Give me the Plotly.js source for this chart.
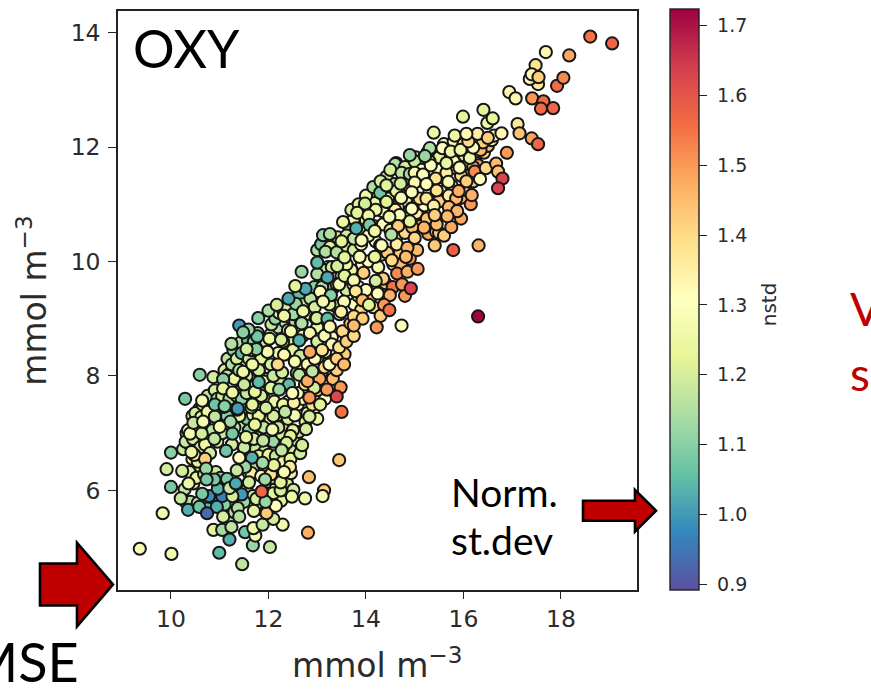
<!DOCTYPE html>
<html><head><meta charset="utf-8">
<script src="https://cdn.plot.ly/plotly-3.0.1.min.js"></script>
<style>html,body{margin:0;padding:0;background:#fff;overflow:hidden}#chart{width:871px;height:691px}</style>
</head><body><div id="chart"></div>
<script>
// ---- hidden bulk under the visible points (drawn first) ----
const massAx=[10.25,10.32,10.4,10.44,10.52,10.58,10.66,10.7,10.78,10.84,10.92,10.98];
const massAy=[6.72,7.0,6.78,7.3,7.0,7.42,6.62,7.12,7.55,6.95,7.2,7.7];
const massAc=[1.18,1.22,1.2,1.24,1.15,1.2,1.26,1.12,1.18,1.22,1.08,1.2];
const massBx=[10.28,10.38,10.46,10.52,10.6,10.68,10.82,10.92,11.02,11.08,10.3,10.44];
const massBy=[6.02,6.32,6.12,6.22,6.42,6.28,6.3,6.32,6.22,6.08,5.8,6.55];
const massBc=[1.18,1.22,1.2,1.24,1.2,1.16,1.1,1.18,1.08,1.2,1.12,1.25];
const massCx=[11.02,11.08,11.14,11.2,11.26,11.32,11.38,11.44,11.5,11.56,11.62,11.68];
const massCy=[7.25,7.62,7.08,7.52,7.85,7.18,7.72,7.1,7.5,7.25,7.8,7.32];
const massCc=[1.2,1.15,1.22,1.1,1.2,1.24,1.12,1.18,1.22,1.08,1.2,1.24];
const massDx=[11.1,11.16,11.22,11.28,11.34,11.42,11.5,11.58,11.64,11.72,11.78,11.84];
const massDy=[8.1,8.3,8.05,8.45,8.18,8.58,8.28,8.62,8.12,8.35,8.75,8.0];
const massDc=[1.2,1.16,1.24,1.1,1.2,1.15,1.22,1.05,1.18,1.22,1.12,1.2];
const massEx=[11.74,11.8,11.86,11.92,11.98,12.04,12.1,12.16,12.22,12.28,12.34,12.4];
const massEy=[6.72,6.92,7.15,6.68,7.0,7.25,6.85,7.12,7.38,6.98,7.15,7.55];
const massEc=[1.18,1.22,1.15,1.2,1.2,1.25,1.12,1.18,1.22,1.2,1.25,1.2];
const massFx=[11.9,11.98,12.04,12.12,12.2,12.26,12.34,12.42,12.5,12.58,12.64,12.72];
const massFy=[7.62,7.95,8.72,7.55,8.85,7.9,8.95,7.85,8.6,8.05,8.22,7.72];
const massFc=[1.2,1.1,1.2,1.25,1.15,1.2,1.18,1.05,1.22,1.12,1.3,1.28];
const massGx=[12.06,12.14,12.22,12.3,12.38,12.46,12.54,12.62,12.7,12.78,12.86,12.94];
const massGy=[8.9,9.0,9.1,9.15,9.2,9.02,9.35,9.4,9.25,9.08,9.35,9.55];
const massGc=[1.18,1.12,1.22,1.1,1.2,1.25,1.15,1.05,1.2,1.26,1.16,1.1];
const massHx=[12.68,12.76,12.84,12.92,13.0,13.08,13.16,13.24,13.32,13.4,13.48,13.56];
const massHy=[7.45,7.2,7.95,7.4,7.25,8.05,7.6,8.25,7.95,8.1,7.8,8.38];
const massHc=[1.28,1.22,1.36,1.28,1.25,1.4,1.3,1.4,1.45,1.42,1.5,1.42];
const massIx=[13.0,13.08,13.16,13.22,13.3,13.38,13.46,13.52,13.6,13.68,13.76,13.84];
const massIy=[8.85,9.75,8.42,9.9,8.68,9.22,9.08,8.78,9.5,8.92,9.25,9.4];
const massIc=[1.25,1.12,1.28,1.2,1.32,1.18,1.28,1.4,1.2,1.45,1.3,1.25];
const massJx=[13.0,13.08,13.16,13.26,13.34,13.42,13.5,13.58,13.66,13.74,13.82,13.9];
const massJy=[10.2,10.3,9.85,10.25,9.55,10.42,9.75,10.25,10.55,9.6,10.75,9.15];
const massJc=[1.15,1.08,1.18,1.22,1.12,1.2,1.25,1.2,1.1,1.28,1.2,1.4];
const massKx=[13.92,14.0,14.08,14.16,14.24,14.32,14.4,14.48,14.56,14.64,14.72,14.8];
const massKy=[9.95,10.72,9.35,10.62,9.52,10.12,9.62,10.85,9.95,10.45,9.95,10.82];
const massKc=[1.3,1.22,1.45,1.3,1.4,1.35,1.42,1.3,1.4,1.28,1.45,1.22];
const massLx=[14.02,14.1,14.18,14.26,14.34,14.42,14.5,14.58,14.66,14.74,14.82,14.9];
const massLy=[10.92,11.12,11.02,11.28,10.88,11.48,11.15,11.35,11.02,11.22,11.05,11.28];
const massLc=[1.2,1.12,1.25,1.18,1.28,1.2,1.3,1.15,1.3,1.25,1.32,1.25];
const massMx=[14.96,15.04,15.12,15.2,15.28,15.36,15.44,15.52,15.6,15.68,15.76,15.84];
const massMy=[10.72,10.85,10.62,10.98,10.48,11.05,10.52,11.42,11.22,11.0,11.32,11.05];
const massMc=[1.42,1.35,1.45,1.3,1.48,1.3,1.44,1.3,1.35,1.42,1.28,1.45];
const massNx=[14.62,14.78,14.92,15.02,15.14,15.26,15.38,15.5,15.62,15.72,15.86,15.96];
const massNy=[11.72,11.42,11.68,11.82,11.48,11.9,11.58,11.82,11.45,12.02,11.62,12.15];
const massNc=[1.12,1.25,1.2,1.15,1.28,1.18,1.3,1.22,1.3,1.28,1.35,1.3];
const massOx=[16.02,16.1,16.18,16.26,16.34,16.42,16.5,16.58,15.98,16.08,16.2,16.3];
const massOy=[11.85,11.55,12.12,11.72,12.05,11.9,12.02,12.12,11.12,11.28,11.4,11.68];
const massOc=[1.35,1.38,1.4,1.48,1.38,1.42,1.45,1.35,1.48,1.44,1.42,1.5];
const massPx=[11.2,11.3,11.42,11.55,11.68,11.82,11.94,12.02,12.14,12.26,12.38,12.46];
const massPy=[5.52,5.72,6.02,6.0,5.9,5.78,5.62,6.0,6.02,5.82,6.12,6.3];
const massPc=[1.15,1.1,1.18,1.2,1.18,1.2,1.22,1.18,1.25,1.22,1.2,1.25];
const massQx=[11.5,11.6,11.7,11.8,11.92,12.0,12.1,12.2,12.32,12.44,12.56,12.62];
const massQy=[6.72,6.3,6.42,6.6,6.35,6.62,6.22,6.48,6.62,6.72,6.88,7.02];
const massQc=[1.18,1.2,1.15,1.22,1.2,1.24,1.18,1.22,1.25,1.2,1.2,1.18];
const bulkAx=[10.3,10.45,10.55,10.6,10.7,10.8,10.85,10.95,10.5,10.65,10.75,10.9,10.35,10.5,10.62,10.8,10.95,10.48];
const bulkAy=[6.85,6.9,6.5,6.75,6.8,6.65,7.05,6.85,7.35,7.5,7.65,7.75,7.05,7.12,7.28,7.42,7.6,6.62];
const bulkAc=[1.18,1.2,1.22,1.18,1.25,1.2,1.16,1.2,1.2,1.18,1.16,1.2,1.25,1.2,1.22,1.18,1.15,1.25];
const bulkBx=[11.05,11.15,11.25,11.3,11.4,11.5,11.6,11.7,11.8,11.9,11.05,11.2,11.35,11.45,11.55,11.65,11.75,11.85];
const bulkBy=[7.0,7.3,6.8,7.1,7.3,6.75,7.05,6.9,7.3,7.1,7.65,7.6,7.65,7.6,7.7,7.45,7.6,7.65];
const bulkBc=[1.18,1.1,1.2,1.15,1.24,1.18,1.1,1.2,1.24,1.18,1.2,1.15,1.24,1.1,1.18,1.22,1.05,1.2];
const bulkCx=[11.15,11.25,11.35,11.45,11.6,11.7,11.85,11.95,12.05,11.3,11.4,11.55,11.65,11.8,11.9,12.1,12.2,12.3];
const bulkCy=[8.0,8.2,8.3,8.4,8.3,8.6,8.3,8.6,8.2,7.95,8.1,8.0,8.45,8.1,7.9,8.0,8.4,8.6];
const bulkCc=[1.18,1.15,1.2,1.05,1.18,1.1,1.22,1.18,1.2,1.24,1.15,1.2,1.1,1.2,1.24,1.18,1.25,1.15];
const bulkDx=[12.1,12.2,12.3,12.4,12.5,12.6,12.7,12.8,12.9,13.0,12.15,12.3,12.45,12.6,12.75,12.9,13.05,13.15];
const bulkDy=[7.3,7.1,7.5,7.25,7.05,7.5,7.6,7.35,7.5,7.75,6.6,6.75,6.95,7.7,7.85,8.0,7.95,8.15];
const bulkDc=[1.2,1.18,1.25,1.2,1.22,1.3,1.28,1.22,1.38,1.42,1.18,1.2,1.22,1.28,1.4,1.3,1.48,1.4];
const bulkEx=[12.4,12.55,12.7,12.85,13.0,13.15,13.3,13.45,13.6,13.75,12.5,12.65,12.8,12.95,13.1,13.25,13.4,13.55];
const bulkEy=[8.8,8.95,8.7,8.75,8.6,8.7,8.55,8.5,8.6,8.7,8.45,8.35,8.2,8.3,8.45,8.2,8.3,8.2];
const bulkEc=[1.18,1.15,1.22,1.26,1.2,1.28,1.32,1.38,1.42,1.4,1.22,1.18,1.28,1.32,1.38,1.3,1.42,1.45];
const bulkFx=[12.95,13.1,13.25,13.4,13.55,13.7,13.85,14.0,14.15,14.3,13.3,13.45,13.6,13.75,13.9,14.05,14.2,14.35];
const bulkFy=[9.2,9.55,9.25,9.6,9.3,9.85,9.55,9.5,9.2,9.05,9.9,9.6,9.95,10.2,10.3,10.0,10.35,9.7];
const bulkFc=[1.2,1.15,1.22,1.2,1.28,1.25,1.32,1.3,1.4,1.42,1.2,1.28,1.25,1.2,1.3,1.32,1.3,1.42];
const bulkGx=[13.6,13.75,13.9,14.05,14.2,14.35,14.5,14.65,14.8,14.95,13.7,13.85,14.0,14.15,14.3,14.45,14.6,14.75];
const bulkGy=[10.45,10.75,10.55,10.45,10.9,10.65,10.55,10.95,10.5,10.6,10.9,11.0,11.15,11.3,11.4,11.1,10.9,11.4];
const bulkGc=[1.2,1.25,1.18,1.3,1.25,1.3,1.38,1.3,1.4,1.45,1.2,1.22,1.25,1.15,1.2,1.25,1.35,1.28];
const bulkHx=[14.6,14.8,15.0,15.15,15.3,15.5,15.65,15.8,15.95,16.1,15.1,15.3,15.5,15.7,15.85,16.0,16.2,16.35];
const bulkHy=[11.7,11.65,11.75,11.6,11.75,11.6,11.55,11.75,11.5,11.7,11.1,11.2,11.05,11.15,11.1,11.25,11.65,11.95];
const bulkHc=[1.15,1.2,1.18,1.3,1.25,1.3,1.35,1.3,1.4,1.38,1.4,1.38,1.42,1.35,1.45,1.4,1.48,1.45];
const bulkIx=[15.6,15.8,16.0,16.2,16.4,15.5,15.7,15.95,16.15,14.7,14.9,15.05,15.25,15.45,15.6,15.75,14.55,14.8];
const bulkIy=[12.05,12.1,12.05,12.12,12.08,10.5,10.95,10.75,11.0,10.15,10.05,10.2,10.75,10.65,10.45,10.6,9.55,9.4];
const bulkIc=[1.3,1.28,1.4,1.35,1.42,1.42,1.45,1.48,1.5,1.42,1.5,1.45,1.44,1.45,1.42,1.48,1.55,1.5];
const bulkJx=[11.1,11.3,11.5,11.75,11.95,12.1,12.25,10.4,10.55,10.9,11.05,11.15,11.65,11.85,12.05,12.3,12.45,12.65];
const bulkJy=[5.75,5.62,5.8,5.85,5.95,5.95,6.0,5.8,5.78,5.85,5.9,6.2,6.3,6.25,6.28,6.5,6.55,6.65];
const bulkJc=[1.1,1.15,1.12,1.2,1.18,1.22,1.2,1.15,1.16,1.0,0.96,1.08,1.36,1.3,1.38,1.25,1.22,1.2];
// ---- the points readable on top of the cloud ----
const lowAx=[9.36,10.01,9.83,10.99,11.46,12.03,11.68,11.2,10.87,11.05,11.24,11.52];
const lowAy=[4.98,4.89,5.6,4.91,4.71,5.01,5.04,5.14,5.31,5.31,5.36,5.27];
const lowAc=[1.28,1.27,1.27,1.05,1.17,1.18,1.12,1.03,1.22,1.13,1.17,1.07];
const lowBx=[11.73,11.69,11.88,12.29,12.81,12.1,10.35,10.75,10.58,10.94,11.07,11.37];
const lowBy=[5.21,5.34,5.4,5.4,5.26,5.5,5.66,5.68,5.71,5.71,5.54,5.69];
const lowBc=[1.27,1.25,1.18,1.27,1.47,1.2,1.03,1.05,1.07,1.03,1.2,1.15];
const lowCx=[11.4,11.7,11.96,12.15,11.94,10.2,10.0,10.78,11.45,10.96,11.26,10.64];
const lowCy=[5.54,5.64,5.6,5.73,5.8,5.86,6.06,5.9,5.93,6.03,5.9,5.94];
const lowCc=[1.15,1.22,1.43,1.3,1.12,1.18,1.08,0.98,1.0,1.04,1.2,1.08];
const lowDx=[11.86,11.6,11.93,12.25,12.51,12.75,12.48,13.14,13.11,12.83,13.45,12.44];
const lowDy=[5.98,6.14,6.19,6.14,6.01,5.86,5.89,6.0,5.9,6.23,6.53,6.41];
const lowDc=[1.57,1.2,1.13,1.22,1.2,1.26,1.25,1.42,1.28,1.45,1.43,1.36];
const lowEx=[12.11,11.66,11.52,11.35,11.88,10.7,10.72,10.23,9.91,10.0,10.36,10.89];
const lowEy=[6.44,6.57,6.41,6.35,6.48,6.55,6.38,6.34,6.37,6.66,6.12,6.19];
const lowEc=[1.22,1.03,1.12,1.18,1.13,1.42,1.12,1.2,1.2,1.1,1.25,1.08];
const lowFx=[10.73,11.2,11.33,11.13,11.4,10.42,10.39,10.63,10.89,11.26,11.54,10.46];
const lowFy=[6.19,6.04,6.12,6.69,6.57,6.67,6.99,6.99,6.9,6.99,6.93,7.18];
const lowFc=[1.08,1.18,1.02,1.07,1.3,1.25,1.27,1.2,1.17,1.08,1.23,1.18];
const lowGx=[10.75,10.9,11.09,11.36,11.22,11.0,10.66,10.74,12.32,12.37,12.27,12.69];
const lowGy=[7.37,7.29,7.46,7.41,7.2,7.11,7.2,5.6,6.32,6.83,6.7,6.79];
const lowGc=[1.25,1.17,1.1,1.0,1.13,1.27,1.27,0.93,1.28,1.2,1.17,1.2];
const lowHx=[12.77,12.84,12.54,13.06,12.34,12.08,11.72,11.89,11.95,11.67,12.52,13.5];
const lowHy=[7.07,7.29,7.31,7.5,7.37,7.06,7.15,6.87,7.44,7.5,7.53,7.37];
const lowHc=[1.2,1.2,1.27,1.22,1.17,1.27,1.23,1.17,1.2,1.22,1.35,1.55];
const midAx=[13.4,13.2,10.59,10.87,11.07,11.07,10.29,10.64,10.9,11.1,11.37,11.26];
const midAy=[7.64,7.76,8.02,7.98,7.94,7.78,7.6,7.57,7.5,7.47,7.43,7.71];
const midAc=[1.62,1.5,1.1,1.2,1.1,1.22,1.08,1.27,1.07,1.1,1.0,1.25];
const midBx=[11.72,12.05,12.22,12.49,12.94,12.84,11.8,11.5,11.48,11.67,12.28,12.63];
const midBy=[7.72,7.79,7.76,7.7,7.79,7.62,7.89,7.85,8.07,8.2,8.06,8.02];
const midBc=[1.23,1.22,1.12,1.3,1.2,1.5,1.05,1.18,1.25,1.25,1.2,1.17];
const midCx=[12.8,12.9,12.32,12.19,11.98,11.75,11.55,12.54,12.85,11.24,11.77,12.02];
const midCy=[7.91,8.08,8.37,8.2,8.42,8.47,8.47,8.25,8.42,8.56,8.69,8.65];
const midCc=[1.47,1.17,1.33,1.4,1.27,1.1,1.2,1.28,1.48,1.15,1.07,1.25];
const midDx=[12.26,12.46,12.63,12.67,12.97,12.7,12.51,12.32,11.4,11.59,11.48,11.79];
const midDy=[8.63,8.78,8.62,8.93,9.01,9.13,9.08,9.05,8.88,8.81,8.76,9.01];
const midDc=[1.2,1.27,1.03,1.17,1.22,1.3,1.13,1.25,1.0,1.12,1.1,1.1];
const midEx=[12.0,12.17,12.56,12.41,12.76,12.55,12.68,13.0,13.21,13.41,13.56,13.95];
const midEy=[9.14,9.24,9.26,9.35,9.52,9.57,9.82,9.78,9.72,9.92,9.75,9.8];
const midEc=[1.15,1.2,1.12,1.02,1.02,1.22,1.12,1.15,1.02,1.2,1.22,1.42];
const midFx=[14.25,14.64,14.85,15.06,13.75,14.2,14.74,14.92,13.06,13.28,13.79,14.24];
const midFy=[9.9,9.79,9.82,9.87,9.67,9.66,9.6,9.53,9.47,9.41,9.48,9.44];
const midFc=[1.28,1.52,1.47,1.5,1.27,1.2,1.5,1.63,1.3,1.1,1.37,1.3];
const midGx=[14.49,13.12,13.49,13.93,14.06,14.37,14.48,12.71,12.99,13.21,13.75,13.93];
const midGy=[9.41,9.3,9.12,9.32,9.24,9.24,9.15,9.13,9.01,9.0,9.04,9.0];
const midGc=[1.47,1.27,1.35,1.45,1.22,1.5,1.55,1.25,1.2,1.05,1.4,1.42];
const midHx=[14.73,14.22,13.26,13.75,12.68,13.0,13.17,13.4,13.56,13.87,14.18,14.44];
const midHy=[8.88,8.85,8.86,8.88,8.92,9.98,10.17,10.16,10.07,10.08,10.08,10.15];
const midHc=[1.32,1.5,1.33,1.45,1.15,1.05,1.15,1.15,1.22,1.3,1.23,1.42];
const upAx=[14.53,13.12,13.26,13.5,13.75,13.91,14.29,14.63,15.0,15.19,14.85,13.53];
const upAy=[10.02,10.46,10.48,10.35,10.4,10.37,10.28,10.3,10.41,10.59,10.24,10.69];
const upAc=[1.4,1.12,1.15,1.22,1.17,1.28,1.32,1.35,1.4,1.46,1.46,1.25];
const upBx=[13.8,13.98,13.82,14.05,14.07,14.18,14.49,14.66,14.9,14.94,15.41,15.79];
const upBy=[10.58,11.01,10.85,10.8,10.64,10.53,10.78,10.64,10.7,10.93,10.28,10.2];
const upBc=[1.03,1.2,1.22,1.25,1.08,1.25,1.3,1.37,1.23,1.3,1.43,1.58];
const upCx=[16.31,14.29,14.62,14.72,14.42,14.5,14.73,14.9,15.0,15.17,15.43,15.69];
const upCy=[10.28,11.2,11.23,11.11,11.04,11.6,11.55,11.53,11.55,11.52,11.45,11.39];
const upCc=[1.46,1.07,1.23,1.28,1.22,1.2,1.17,1.13,1.28,1.3,1.38,1.27];
const upDx=[14.42,14.71,15.0,15.24,14.94,15.45,15.24,15.39,14.94,15.87,15.67,15.41];
const upDy=[11.33,11.36,11.38,11.35,11.21,11.24,11.1,10.97,10.92,10.88,10.79,10.81];
const upDc=[1.22,1.2,1.33,1.3,1.3,1.38,1.37,1.35,1.3,1.46,1.45,1.42];
const upEx=[14.69,14.48,14.66,14.52,14.32,14.82,15.33,15.65,15.92,16.13,16.23,16.46];
const upEy=[10.81,10.78,10.62,10.47,10.28,10.08,11.68,11.72,11.64,11.81,11.57,11.63];
const upEc=[1.3,1.27,1.42,1.15,1.3,1.45,1.3,1.25,1.3,1.25,1.52,1.4];
const upFx=[16.67,16.89,16.71,16.8,16.71,16.34,16.06,15.9,16.17,15.31,15.21,14.9];
const upFy=[11.71,11.9,11.57,11.45,11.28,11.44,11.4,11.23,11.16,11.98,11.84,11.86];
const upFc=[1.45,1.5,1.44,1.63,1.63,1.3,1.42,1.47,1.47,1.15,1.12,1.12];
const upGx=[15.57,15.74,15.94,16.2,15.39,15.82,16.63,16.1,16.29,16.78,16.5,16.06];
const upGy=[11.98,11.92,11.95,11.99,12.25,12.2,12.2,12.1,12.23,12.24,12.16,12.23];
const upGc=[1.3,1.25,1.25,1.3,1.25,1.25,1.33,1.4,1.35,1.33,1.42,1.33];
const topAx=[15.99,16.41,16.49,16.6,17.11,17.15,17.4,17.53,16.94,17.07,17.41,17.64];
const topAy=[12.53,12.65,12.42,12.5,12.4,12.24,12.15,12.05,12.96,12.85,12.85,12.8];
const topAc=[1.22,1.22,1.25,1.23,1.37,1.44,1.49,1.57,1.33,1.33,1.5,1.56];
const topBx=[17.59,17.84,17.53,17.36,17.48,17.4,17.54,17.92,18.05,17.69,18.17,18.6,19.05];
const topBy=[12.67,12.68,13.1,13.19,13.43,13.27,13.22,13.07,13.21,13.66,13.6,13.93,13.81];
const topBc=[1.56,1.57,1.37,1.32,1.38,1.33,1.42,1.56,1.52,1.33,1.48,1.55,1.57];
const outlierX=[16.3], outlierY=[9.04], outlierC=[1.72];

const xTickValues=[10,12,14,16,18];
const yTickValues=[6,8,10,12,14];
const nstdTickValues=[0.9,1.0,1.1,1.2,1.3,1.4,1.5,1.6,1.7];
const nstdTickLabels=['0.9','1.0','1.1','1.2','1.3','1.4','1.5','1.6','1.7'];
const spectralReversed=[[0,'#5e4fa2'],[0.1,'#3288bd'],[0.2,'#66c2a5'],[0.3,'#abdda4'],[0.4,'#e6f598'],[0.5,'#ffffbf'],[0.6,'#fee08b'],[0.7,'#fdae61'],[0.8,'#f46d43'],[0.9,'#d53e4f'],[1,'#9e0142']];

const X=[].concat(massAx,massBx,massCx,massDx,massEx,massFx,massGx,massHx,massIx,massJx,massKx,massLx,massMx,massNx,massOx,massPx,massQx,bulkAx,bulkBx,bulkCx,bulkDx,bulkEx,bulkFx,bulkGx,bulkHx,bulkIx,bulkJx,lowAx,lowBx,lowCx,lowDx,lowEx,lowFx,lowGx,lowHx,midAx,midBx,midCx,midDx,midEx,midFx,midGx,midHx,upAx,upBx,upCx,upDx,upEx,upFx,upGx,topAx,topBx,outlierX);
const Y=[].concat(massAy,massBy,massCy,massDy,massEy,massFy,massGy,massHy,massIy,massJy,massKy,massLy,massMy,massNy,massOy,massPy,massQy,bulkAy,bulkBy,bulkCy,bulkDy,bulkEy,bulkFy,bulkGy,bulkHy,bulkIy,bulkJy,lowAy,lowBy,lowCy,lowDy,lowEy,lowFy,lowGy,lowHy,midAy,midBy,midCy,midDy,midEy,midFy,midGy,midHy,upAy,upBy,upCy,upDy,upEy,upFy,upGy,topAy,topBy,outlierY);
const C=[].concat(massAc,massBc,massCc,massDc,massEc,massFc,massGc,massHc,massIc,massJc,massKc,massLc,massMc,massNc,massOc,massPc,massQc,bulkAc,bulkBc,bulkCc,bulkDc,bulkEc,bulkFc,bulkGc,bulkHc,bulkIc,bulkJc,lowAc,lowBc,lowCc,lowDc,lowEc,lowFc,lowGc,lowHc,midAc,midBc,midCc,midDc,midEc,midFc,midGc,midHc,upAc,upBc,upCc,upDc,upEc,upFc,upGc,topAc,topBc,outlierC);

// figure geometry
const W=871,H=691,L=118,R=637,T=10,B=590.5;
const px=v=>(v-L)/(R-L), py=v=>(B-v)/(B-T);
const arrowPath=pts=>pts.map((p,i)=>(i?'L':'M')+px(p[0]).toFixed(4)+','+py(p[1]).toFixed(4)).join(' ')+' Z';
const arrow=pts=>({type:'path',xref:'paper',yref:'paper',path:arrowPath(pts),fillcolor:'#c00000',line:{color:'#000',width:2.6},layer:'above'});
const label=(text,x,y,size,color,font,xanchor)=>({text,xref:'paper',yref:'paper',x:px(x),y:py(y),xanchor:xanchor||'left',yanchor:'middle',showarrow:false,font:{size,color:color||'#000',family:font||'Lato, sans-serif'}});

const tickFont={family:'DejaVu Sans',size:23.5,color:'#2b2b2b'};
const titleFont={family:'DejaVu Sans',size:33,color:'#2b2b2b'};
const trace={type:'scatter',mode:'markers',x:X,y:Y,
  marker:{size:12.2,color:C,cmin:0.891,cmax:1.723,colorscale:spectralReversed,line:{color:'#161616',width:2},opacity:1,
    colorbar:{x:(670-L)/(R-L),xanchor:'left',xpad:0,ypad:0,y:-0.5/(B-T),yanchor:'bottom',len:582/(B-T),lenmode:'fraction',thickness:29,thicknessmode:'pixels',
      tickmode:'array',tickvals:nstdTickValues,ticktext:nstdTickLabels.map(t=>'\u00a0'+t),ticks:'outside',ticklen:8,tickwidth:1.3,tickcolor:'#222',
      tickfont:{family:'DejaVu Sans',size:19,color:'#2b2b2b'},outlinecolor:'#222',outlinewidth:1.4}},
  hoverinfo:'skip',showlegend:false};
const axisCommon={showgrid:false,zeroline:false,showline:true,mirror:true,linecolor:'#222',linewidth:1.5,ticks:'outside',ticklen:8,tickwidth:1.3,tickcolor:'#222',tickfont:tickFont,automargin:false};
const layout={width:W,height:H,margin:{l:L,r:W-R,t:T,b:H-B,pad:0},paper_bgcolor:'#fff',plot_bgcolor:'#fff',showlegend:false,
  xaxis:Object.assign({},axisCommon,{ticklen:7,range:[8.913,19.56],tickmode:'array',tickvals:xTickValues,ticktext:xTickValues.map(String)}),
  yaxis:Object.assign({},axisCommon,{ticklabelstandoff:3,range:[4.259,14.377],tickmode:'array',tickvals:yTickValues,ticktext:yTickValues.map(String),title:{text:'mmol m<sup>−3</sup>',font:titleFont,standoff:14}}),
  shapes:[
    arrow([[40,564],[77,564],[77,543],[113,585],[77,627],[77,606],[40,606]]),
    arrow([[583,501],[635,501],[635,490],[656,511],[635,532],[635,521],[583,521]])
  ],
  annotations:[
    label('mmol m<sup>−3</sup>',377,664,33,'#2b2b2b','DejaVu Sans','center'),
    label('OXY',131,47,52),
    label('Norm.',449,492,39),
    label('st.dev',449,540,39),
    label('MSE',81,662,54,'#000',null,'right'),
    label('V',848,308,46,'#c00000'),
    label('s',848,373,46,'#c00000'),
    Object.assign(label('nstd',769,304,20,'#2b2b2b','DejaVu Sans','center'),{textangle:-90,yanchor:'middle'})
  ]};
Plotly.newPlot('chart',[trace],layout,{displayModeBar:false,responsive:false});
</script></body></html>
